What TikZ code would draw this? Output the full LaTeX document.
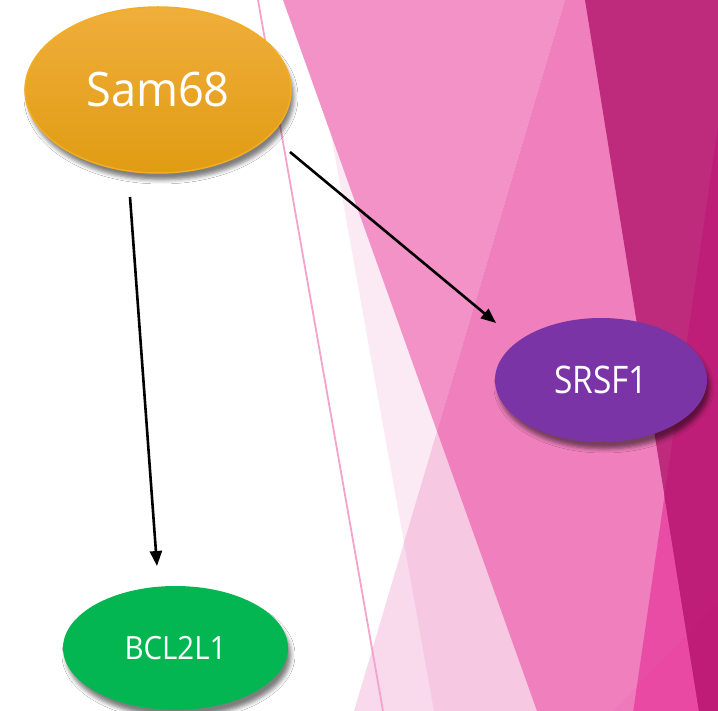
\documentclass[tikz,border=0pt]{standalone}
\usepackage{fontspec}
\usepackage{graphicx}
\newfontfamily\lblfont{Open Sans}
\usetikzlibrary{shapes.geometric,arrows.meta,calc,shadows.blur}

% background facets
\definecolor{paleA}{HTML}{F9DAEC}
\definecolor{paleB}{HTML}{FBE9F3}
\definecolor{paleC}{HTML}{F7C8E2}
\definecolor{pinkA}{HTML}{F292C6}
\definecolor{pinkB}{HTML}{F07FBD}
\definecolor{hotpink}{HTML}{E94CA4}
\definecolor{magA}{HTML}{BE2A7C}
\definecolor{magB}{HTML}{BE1E78}
\definecolor{wisp}{HTML}{F4A3CD}
% node colours
\definecolor{samtop}{HTML}{F0AE3C}
\definecolor{sambot}{HTML}{E09C12}
\definecolor{samedge}{HTML}{F3AD22}
\definecolor{srsfcol}{HTML}{7A34A6}
\definecolor{bclcol}{HTML}{03B651}

\tikzset{
  gene/.style={ellipse, inner sep=0pt, text=white,
    blur shadow={shadow xshift=3pt, shadow yshift=-7pt,
                 shadow blur radius=4pt, shadow opacity=50}},
  link/.style={-{Triangle[length=15pt,width=12pt]}, line width=2.6pt, black},
}

\begin{document}
\begin{tikzpicture}[x=1pt,y=-1pt]
\useasboundingbox (0,0) rectangle (718,711);
\fill[white] (0,0) rectangle (718,711);

% layered translucent-looking facets, drawn as opaque regions
\fill[paleA] (565,0) -- (718,0) -- (718,711) -- (354,711) -- cycle;
\fill[paleB] (307,0) -- (565,0) -- (404,542.7) -- cycle;
\fill[paleC] (565,0) -- (718,0) -- (718,711) -- (434,711) -- (404,542.7) -- cycle;
\fill[pinkA] (283,0) -- (565,0) -- (437,431.2) -- cycle;
\fill[pinkB] (565,0) -- (718,0) -- (718,711) -- (537,711) -- (437,431.2) -- cycle;
\fill[hotpink] (718,127) -- (718,711) -- (633.3,711) -- cycle;
\fill[magA] (585,0) -- (718,0) -- (718,711) -- (699,711) -- cycle;
\fill[magB] (718,127) -- (664.5,495.9) -- (699,711) -- (718,711) -- cycle;
\fill[magenta, opacity=0.04] (718,603) -- (718,711) -- (613,711) -- cycle;

% thin wisp line
\draw[wisp, line width=1.8pt] (258,0) -- (383,711);

% genes
\node[gene, minimum width=266pt, minimum height=166pt,
      top color=samtop, bottom color=sambot, draw=samedge, line width=1.5pt]
  (sam) at (158,90)
  {\lblfont\fontsize{47.5}{50}\selectfont\scalebox{0.95}[1]{Sam68}};
\node[gene, minimum width=212pt, minimum height=124pt, fill=srsfcol]
  (srsf) at (601,380)
  {\lblfont\fontsize{38}{40}\selectfont\scalebox{0.88}[1]{SRSF1}};
\node[gene, minimum width=225pt, minimum height=124pt, fill=bclcol]
  (bcl) at (175.5,648)
  {\lblfont\fontsize{32}{34}\selectfont\scalebox{0.92}[1]{BCL2L1}};

% regulation arrows
\draw[link] ($(sam)+(-28,107)$) -- ($(bcl)+(-18.5,-82)$);
\draw[link] ($(sam)+(132,62)$) -- ($(srsf)+(-105,-57)$);
\end{tikzpicture}
\end{document}
